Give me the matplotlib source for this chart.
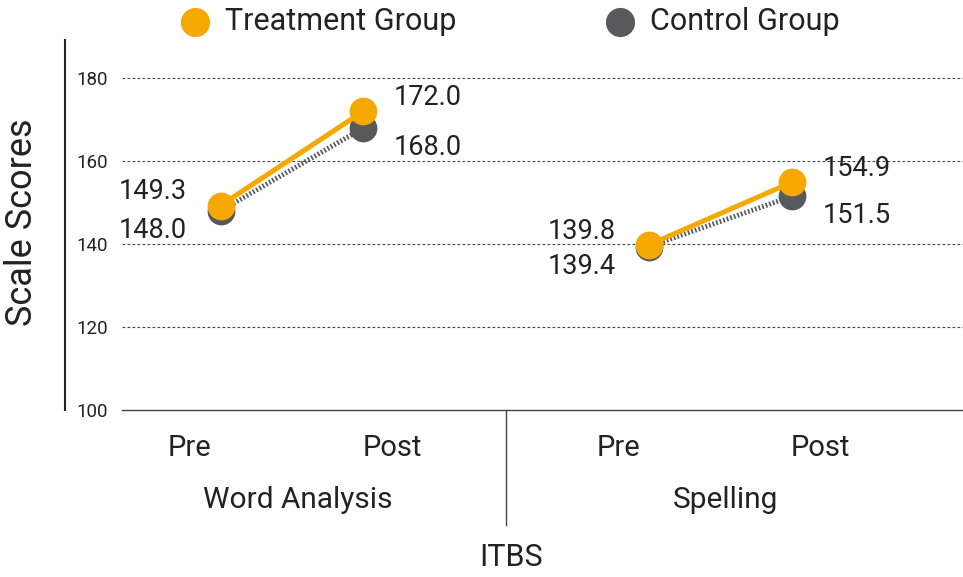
import matplotlib
matplotlib.use("Agg")
import matplotlib.pyplot as plt
from matplotlib.lines import Line2D

plt.rcParams['font.family'] = ['Roboto', 'DejaVu Sans']

# ITBS scale scores
subtests = ["Word Analysis", "Spelling"]
phases = ["Pre", "Post"]
treatment = [149.3, 172.0, 139.8, 154.9]
control = [148.0, 168.0, 139.4, 151.5]
yticks = [100, 120, 140, 160, 180]

ORANGE = "#F5A800"
GREY = "#58595B"
INK = "#222222"

W, H = 963, 577
fig = plt.figure(figsize=(W / 100, H / 100), dpi=100)

# axes box in pixels: x 122..963, y 40..410
ax = fig.add_axes([122 / W, (H - 410) / H, (W - 122) / W, (410 - 40) / H])
ax.set_xlim(-0.69, 5.2)
ax.set_ylim(100, 189.2)

xpos = [0, 1, 3, 4]
for i in range(len(subtests)):
    xs = xpos[2 * i:2 * i + 2]
    ax.plot(xs, control[2 * i:2 * i + 2], color=GREY, lw=3.6,
            linestyle=(0, (0.35, 0.4)), zorder=2)
    ax.plot(xs, control[2 * i:2 * i + 2], "o", color=GREY, ms=20,
            mec="none", zorder=3)
    ax.plot(xs, treatment[2 * i:2 * i + 2], color=ORANGE, lw=3.6, zorder=4)
    ax.plot(xs, treatment[2 * i:2 * i + 2], "o", color=ORANGE, ms=20,
            mec="none", zorder=5)

# value labels: pre to the left, post to the right
for k, x in enumerate(xpos):
    pre = k % 2 == 0
    dx = -24 if pre else 22
    ha = "right" if pre else "left"
    ax.annotate(f"{treatment[k]:.1f}", (x, treatment[k]), xytext=(dx, 10),
                textcoords="offset points", ha=ha, va="center",
                fontsize=19.5, color=INK)
    ax.annotate(f"{control[k]:.1f}", (x, control[k]), xytext=(dx, -14),
                textcoords="offset points", ha=ha, va="center",
                fontsize=19.5, color=INK)

# grid
for y in yticks[1:]:
    ax.axhline(y, color="#444444", lw=0.8, linestyle=(0, (2.5, 2)), zorder=1)
for s in ["top", "right", "left"]:
    ax.spines[s].set_visible(False)
ax.spines["bottom"].set_color("#444444")
ax.spines["bottom"].set_linewidth(1)

ax.set_yticks(yticks)
ax.set_yticklabels([str(v) for v in yticks], fontsize=13.5, color=INK)
ax.tick_params(axis="y", length=0, pad=10)
ax.set_xticks([])

# phase labels sit a little outside their points
xaxis_tf = ax.get_xaxis_transform()
for k, x in enumerate(xpos):
    pre = k % 2 == 0
    ax.annotate(phases[k % 2], (x, 0), xycoords=xaxis_tf,
                xytext=(-22 if pre else 21, -27), textcoords="offset points",
                ha="center", va="center", fontsize=21, color=INK)

for i, name in enumerate(subtests):
    ax.text(xpos[2 * i] + 0.54, -0.244, name, transform=xaxis_tf,
            ha="center", va="center", fontsize=21.5, color=INK)

# divider between subtests
ax.plot([2, 2], [0, -0.31], transform=xaxis_tf,
        color="#444444", lw=1, clip_on=False)

fig.text(511 / W, 1 - 558 / H, "ITBS", ha="center", va="center",
         fontsize=22, color=INK)

# left axis line and title
fig.add_artist(Line2D([65 / W, 65 / W], [1 - 40 / H, 1 - 410 / H],
                      color=INK, lw=1.5))
fig.text(22 / W, 1 - 222 / H, "Scale Scores", rotation=90, ha="center",
         va="center", fontsize=26, color=INK)

# legend row
for x, label, c in [(195, "Treatment Group", ORANGE), (620, "Control Group", GREY)]:
    fig.add_artist(Line2D([x / W], [1 - 22 / H], marker="o", ms=21,
                          color=c, mec="none"))
    fig.text((x + 30) / W, 1 - 22 / H, label, ha="left", va="center",
             fontsize=22, color=INK)

fig.savefig("out.png", dpi=100)
